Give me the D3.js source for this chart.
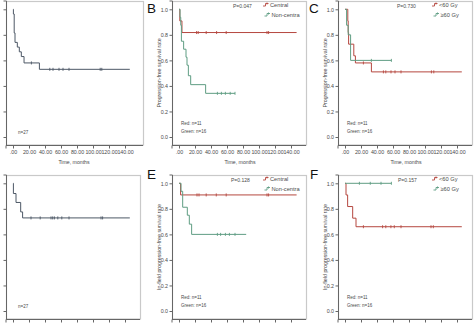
<!DOCTYPE html>
<html><head><meta charset="utf-8">
<script src="https://cdn.jsdelivr.net/npm/d3@7"></script>
<style>
html,body{margin:0;padding:0;background:#fff;}
svg{display:block;font-family:"Liberation Sans",Arial,sans-serif;}
</style></head>
<body>
<svg id="c" width="474" height="323"></svg>
<script>
// ---------- data ----------
const xTicks = [0, 20, 40, 60, 80, 100, 120, 140];
const yTicks = [0, 0.2, 0.4, 0.6, 0.8, 1.0];

// Panel A: overall PFS (n=27)
const aTimes  = [0, 0.5, 1.5, 2.5, 5.4, 7.9, 10.4, 13.8, 33];
const aSurv   = [1, 0.963, 0.815, 0.741, 0.704, 0.667, 0.63, 0.58, 0.53];
const aCensor = [23, 46, 50, 57.5, 62.5, 70, 109, 111];
const aEnd    = 146;

// Panel B: PFS central (red) vs non-central (green)
const bRedTimes  = [0, 1, 3.7];
const bRedSurv   = [1, 0.909, 0.818];
const bRedCensor = [22, 24, 34, 47, 59, 110, 112];
const bRedEnd    = 147;
const bGrnTimes  = [0, 1.3, 2.2, 3, 5.8, 8.75, 10, 11.7, 14.6, 33.3];
const bGrnSurv   = [1, 0.9375, 0.875, 0.75, 0.6875, 0.625, 0.5625, 0.48, 0.41, 0.342];
const bGrnCensor = [48, 53, 58, 64, 70];
const bGrnEnd    = 70;

// Panel C: PFS <60 Gy (red) vs >=60 Gy (green)
const cRedTimes  = [0, 3.5, 4, 4.5, 11, 13, 33];
const cRedSurv   = [1, 0.909, 0.818, 0.727, 0.636, 0.58, 0.51];
const cRedCensor = [23, 48, 51, 57.5, 62.5, 70, 108, 111];
const cRedEnd    = 146;
const cGrnTimes  = [0, 2, 4, 7];
const cGrnSurv   = [1, 0.875, 0.8, 0.6];
const cGrnCensor = [33, 58];
const cGrnEnd    = 58;

// Panel D: overall in-field PFS (n=27)
const dTimes  = [0, 0.5, 3.75, 9.6, 12];
const dSurv   = [1, 0.92, 0.85, 0.776, 0.729];
const dCensor = [22.5, 34, 47.5, 49.6, 51.7, 56, 61, 70, 110, 112];
const dEnd    = 146;

// Panel E: in-field PFS central vs non-central
const eRedTimes  = [0, 2];
const eRedSurv   = [1, 0.909];
const eRedCensor = [22.5, 25, 34, 46.6, 59, 110, 112];
const eRedEnd    = 147;
const eGrnTimes  = [0, 2.5, 4.6, 10.4, 12.9, 15.8];
const eGrnSurv   = [1, 0.9375, 0.8125, 0.75, 0.68, 0.6];
const eGrnCensor = [48, 52, 58, 63, 70];
const eGrnEnd    = 84;

// Panel F: in-field PFS <60 Gy vs >=60 Gy
const fRedTimes  = [0, 1.25, 3.3, 9.6, 13.75];
const fRedSurv   = [1, 0.909, 0.818, 0.727, 0.66];
const fRedCensor = [23, 47, 51, 57.4, 61.6, 70, 107.5, 110.4];
const fRedEnd    = 146;
const fGrnTimes  = [0];
const fGrnSurv   = [1];
const fGrnCensor = [18, 31.6, 45, 58];
const fGrnEnd    = 58;

const pTexts = ["P=0.047", "P=0.730", "P=0.128", "P=0.157"];
const legCentral = ["Central", "Non-centra"];
const legDose = ["<60 Gy", "\u226560 Gy"];
const countTexts = ["Red: n=11", "Green: n=16"];
const yTitleTop = "Progression-free survival rate";
const yTitleBot = "In-field progression-free survival rate";
const xTitle = "Time, months";

// ---------- style ----------
const RED = "#b5473f", GRN = "#5f9d83", GRY = "#4d5866";
const TXT = "#4a4a4a", FRAME = "#c9c9c9", AX = "#666";
const FS_TICK = "5.3px", FS_SMALL = "4.5px", FS_LEG = "5.7px";

const svg = d3.select("#c");

function panel(X0, T, opt) {
  const g = svg.append("g");
  const W = opt.w || 134;
  const x = d3.scaleLinear().domain([-8.75, 158.75]).range([X0, X0 + 134]);
  const y = d3.scaleLinear().domain([-0.0626, 1.065]).range([T + 145, T + 1]);
  g.append("rect").attr("x", X0 + 0.5).attr("y", T + 1.5)
    .attr("width", W).attr("height", 143.5)
    .attr("fill", "none").attr("stroke", FRAME).attr("stroke-width", 1.2);
  const ya = g.append("g").attr("transform", `translate(${X0 + 0.5},0)`)
    .call(d3.axisLeft(y).tickValues(yTicks).tickSize(3).tickPadding(1.5)
      .tickFormat(opt.hideY ? () => "" : d3.format(".1f")));
  const xa = g.append("g").attr("transform", `translate(0,${T + 145.5})`)
    .call(d3.axisBottom(x).tickValues(xTicks).tickSize(3).tickPadding(2)
      .tickFormat(opt.hideX ? () => "" : (d => d === 0 ? ".00" : d3.format(".2f")(d))));
  ya.select(".domain").attr("d", `M-3,${T + 1}H0V${T + 145}`);
  xa.select(".domain").attr("d", `M${X0},3V0H${X0 + W}`);
  [ya, xa].forEach(a => {
    a.select(".domain").attr("stroke", AX);
    a.selectAll(".tick line").attr("stroke", AX);
    a.selectAll("text").attr("fill", TXT).attr("font-size", FS_TICK)
      .attr("font-family", "Liberation Sans, Arial, sans-serif");
    a.selectAll(".tick text").filter(function () { return this.textContent === ""; }).remove();
  });
  if (!opt.hideX) {
    g.append("text").attr("x", X0 + 68).attr("y", T + 163.5).attr("text-anchor", "middle")
      .attr("font-size", "5.2px").attr("fill", TXT).text(xTitle);
  }
  if (!opt.hideY) {
    g.append("text").attr("transform", `translate(${X0 - 11},${T + 73}) rotate(-90)`)
      .attr("text-anchor", "middle").attr("font-size", "5.3px").attr("fill", TXT).text(opt.yTitle);
  }

  opt.series.forEach(s => {
    const pts = s.times.map((t, i) => [t, s.surv[i]]);
    pts.push([s.end, s.surv[s.surv.length - 1]]);
    g.append("path").attr("d", d3.line().x(d => x(d[0])).y(d => y(d[1])).curve(d3.curveStepAfter)(pts))
      .attr("fill", "none").attr("stroke", s.color).attr("stroke-width", 1);
    const sv = t => { let v = 1; s.times.forEach((tt, i) => { if (tt <= t) v = s.surv[i]; }); return v; };
    g.selectAll(null).data(s.censor).enter().append("line")
      .attr("x1", d => x(d)).attr("x2", d => x(d))
      .attr("y1", d => y(sv(d)) - 1.5).attr("y2", d => y(sv(d)) + 1.5)
      .attr("stroke", s.color).attr("stroke-width", 0.9);
  });

  if (opt.n) {
    g.append("text").attr("x", X0 + 12).attr("y", T + 134).attr("font-size", FS_SMALL)
      .attr("fill", TXT).text(opt.n);
  }
  if (opt.counts) {
    g.append("text").attr("x", X0 + 9).attr("y", T + 124.5).attr("font-size", FS_SMALL).attr("fill", TXT).text(countTexts[0]);
    g.append("text").attr("x", X0 + 9).attr("y", T + 133).attr("font-size", FS_SMALL).attr("fill", TXT).text(countTexts[1]);
  }
  if (opt.p) {
    g.append("text").attr("x", X0 + opt.px).attr("y", T + 7.5).attr("font-size", "5px").attr("fill", TXT).text(opt.p);
  }
  if (opt.legend) {
    opt.legend.forEach((lab, i) => {
      const lx = X0 + opt.lx + i * 1.5, ly = T + 6 + i * 10;
      const col = i === 0 ? RED : GRN;
      g.append("path").attr("d", `M${lx},${ly} h2.5 v-2.5 h3 M${lx + 4},${ly - 3.5} v2`)
        .attr("fill", "none").attr("stroke", col).attr("stroke-width", 0.9);
      g.append("text").attr("x", lx + 7).attr("y", ly + 1).attr("font-size", FS_LEG).attr("fill", TXT).text(lab);
    });
  }
  if (opt.letter) {
    svg.append("text").attr("x", opt.letter[1]).attr("y", opt.letter[2]).attr("font-size", "13.5px")
      .attr("fill", "#111").text(opt.letter[0]);
  }
}

const rowTop = 0, rowBot = 174;
panel(6, rowTop, { yTitle: yTitleTop, n: "n=27", hideY: true, w: 137,
  series: [{ times: aTimes, surv: aSurv, censor: aCensor, end: aEnd, color: GRY }] });
panel(172, rowTop, { yTitle: yTitleTop, counts: true, p: pTexts[0], px: 61, legend: legCentral, lx: 91,
  letter: ["B", 147, 13],
  series: [{ times: bRedTimes, surv: bRedSurv, censor: bRedCensor, end: bRedEnd, color: RED },
           { times: bGrnTimes, surv: bGrnSurv, censor: bGrnCensor, end: bGrnEnd, color: GRN }] });
panel(338, rowTop, { yTitle: yTitleTop, counts: true, p: pTexts[1], px: 59, legend: legDose, lx: 94,
  letter: ["C", 309, 13],
  series: [{ times: cRedTimes, surv: cRedSurv, censor: cRedCensor, end: cRedEnd, color: RED },
           { times: cGrnTimes, surv: cGrnSurv, censor: cGrnCensor, end: cGrnEnd, color: GRN }] });
panel(6, rowBot, { yTitle: yTitleBot, n: "n=27", hideY: true, hideX: true,
  series: [{ times: dTimes, surv: dSurv, censor: dCensor, end: dEnd, color: GRY }] });
panel(172, rowBot, { yTitle: yTitleBot, counts: true, p: pTexts[2], px: 59, legend: legCentral, lx: 91, hideX: true,
  letter: ["E", 147, 179],
  series: [{ times: eRedTimes, surv: eRedSurv, censor: eRedCensor, end: eRedEnd, color: RED },
           { times: eGrnTimes, surv: eGrnSurv, censor: eGrnCensor, end: eGrnEnd, color: GRN }] });
panel(338, rowBot, { yTitle: yTitleBot, counts: true, p: pTexts[3], px: 60, legend: legDose, lx: 94, hideX: true,
  letter: ["F", 310, 179],
  series: [{ times: fRedTimes, surv: fRedSurv, censor: fRedCensor, end: fRedEnd, color: RED },
           { times: fGrnTimes, surv: fGrnSurv, censor: fGrnCensor, end: fGrnEnd, color: GRN }] });
</script>
</body></html>
